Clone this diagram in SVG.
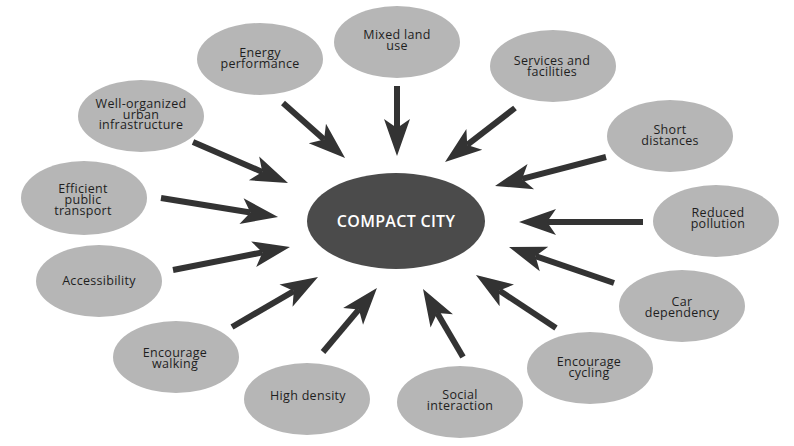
<svg xmlns="http://www.w3.org/2000/svg" width="794" height="446" viewBox="0 0 794 446">
<defs>
<style>
.n ellipse{fill:#b6b6b6}
.n text{font-family:"Open Sans","DejaVu Sans",sans-serif;font-size:12.5px;letter-spacing:0.3px;fill:#1e1e1e;text-anchor:middle}
#center ellipse{fill:#4b4b4b}
#center text{font-family:"Open Sans","DejaVu Sans",sans-serif;font-size:16px;letter-spacing:0.3px;font-weight:600;fill:#ffffff;text-anchor:middle}
.c line{stroke:#333333;stroke-width:6;marker-end:url(#ah)}
</style>
<marker id="ah" markerUnits="userSpaceOnUse" markerWidth="40" markerHeight="30" viewBox="0 0 40 30" refX="10" refY="15" orient="auto">
<path d="M38,15 L1,2 L10,15 L1,28 Z" fill="#333333"/>
</marker>
</defs>
<rect width="794" height="446" fill="#ffffff"/>
<g id="connectors" class="c">
<line x1="397" y1="86" x2="397" y2="128"/>
<line x1="283" y1="103" x2="324.1" y2="139.4"/>
<line x1="515" y1="108" x2="467.2" y2="144.9"/>
<line x1="606" y1="157" x2="522.1" y2="178.9"/>
<line x1="643" y1="222" x2="547" y2="222"/>
<line x1="614" y1="283" x2="535.5" y2="256.1"/>
<line x1="556" y1="328" x2="499.3" y2="290.5"/>
<line x1="463" y1="357" x2="437.2" y2="313.1"/>
<line x1="323" y1="352" x2="358.9" y2="309.4"/>
<line x1="232" y1="327" x2="293.8" y2="291.1"/>
<line x1="173" y1="270" x2="262.5" y2="252.4"/>
<line x1="161" y1="198" x2="250.4" y2="212.5"/>
<line x1="193" y1="142" x2="262.3" y2="171.9"/>
</g>
<g id="center">
<ellipse cx="396" cy="221" rx="89" ry="48"/>
<text x="396" y="227">COMPACT CITY</text>
</g>
<g id="mixed" class="n"><ellipse cx="397" cy="42" rx="63" ry="36"/><text x="397" y="39">Mixed land</text><text x="397" y="50">use</text></g>
<g id="energy" class="n"><ellipse cx="260" cy="59" rx="63" ry="36"/><text x="260" y="57">Energy</text><text x="260" y="68">performance</text></g>
<g id="services" class="n"><ellipse cx="553" cy="66" rx="63" ry="36"/><text x="552" y="65">Services and</text><text x="552" y="76">facilities</text></g>
<g id="short" class="n"><ellipse cx="670" cy="136" rx="63" ry="36"/><text x="670" y="134">Short</text><text x="670" y="145">distances</text></g>
<g id="reduced" class="n"><ellipse cx="716" cy="221" rx="63" ry="36"/><text x="718" y="217">Reduced</text><text x="718" y="228">pollution</text></g>
<g id="car" class="n"><ellipse cx="682" cy="306" rx="63" ry="36"/><text x="682" y="306">Car</text><text x="682" y="317">dependency</text></g>
<g id="cycling" class="n"><ellipse cx="590" cy="368" rx="63" ry="36"/><text x="589" y="366">Encourage</text><text x="589" y="377">cycling</text></g>
<g id="social" class="n"><ellipse cx="460" cy="402" rx="63" ry="36"/><text x="460" y="399">Social</text><text x="460" y="410">interaction</text></g>
<g id="high" class="n"><ellipse cx="307" cy="399" rx="63" ry="36"/><text x="308" y="400">High density</text></g>
<g id="walking" class="n"><ellipse cx="176" cy="357" rx="63" ry="36"/><text x="175" y="357">Encourage</text><text x="175" y="368">walking</text></g>
<g id="accessibility" class="n"><ellipse cx="99" cy="281" rx="63" ry="36"/><text x="99" y="285">Accessibility</text></g>
<g id="efficient" class="n"><ellipse cx="84" cy="198" rx="63" ry="37"/><text x="83" y="193">Efficient</text><text x="83" y="204">public</text><text x="83" y="215">transport</text></g>
<g id="wellorg" class="n"><ellipse cx="141" cy="116" rx="63" ry="36"/><text x="141" y="108">Well-organized</text><text x="141" y="118.5">urban</text><text x="141" y="129">infrastructure</text></g>
</svg>
